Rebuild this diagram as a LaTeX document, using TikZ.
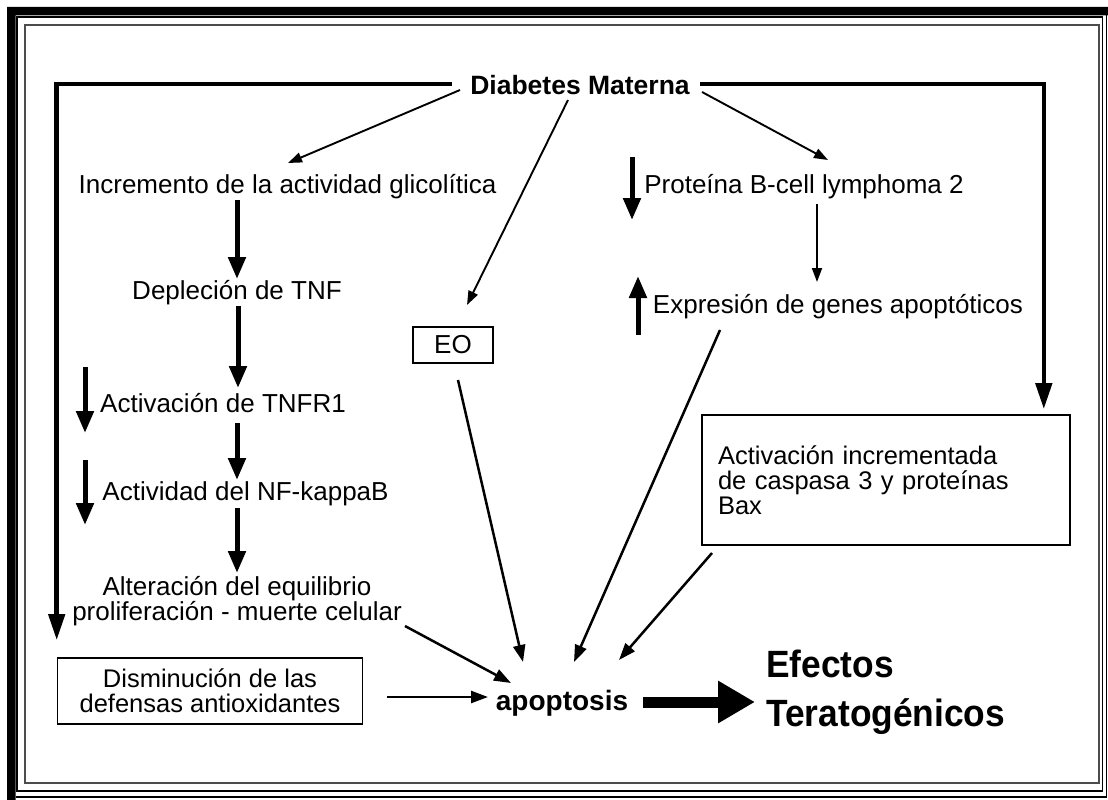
\documentclass[tikz,border=0pt]{standalone}
\usepackage{fontspec}
\usepackage{graphicx}
\setmainfont{Liberation Sans}
\usetikzlibrary{arrows.meta}
\begin{document}
\begin{tikzpicture}[x=1pt,y=-1pt,
  txt/.style={inner sep=0pt, font=\fontsize{26}{23}\selectfont},
  boxtxt/.style={inner sep=0pt, font=\fontsize{25.5}{25}\selectfont},
  boxed/.style={draw, line width=1.6pt},
  chainarr/.style={line width=5pt, -{Triangle[width=17pt,length=22pt]}},
  longarr/.style={line width=4.5pt, -{Triangle[width=16pt,length=26pt]}},
  thinarr/.style={line width=1.9pt, -{Triangle[width=10pt,length=14pt]}},
  midarr/.style={line width=2.5pt, -{Triangle[width=12pt,length=17pt]}},
  bigarr/.style={line width=11pt, -{Triangle[width=40pt,length=37pt]}}]
\useasboundingbox (0,0) rectangle (1108,800);
% frame
\fill (7,7) -- (1108,7) -- (1108,15.5) -- (15.5,15.5) -- (15.5,800) -- (7,800) -- cycle;
\draw[line width=1.1pt] (17,17) rectangle (1102.7,791);
\draw[line width=1.1pt] (1106.7,15.5) -- (1106.7,797) -- (15.5,797);
\draw[line width=2.2pt, black!70] (25,25) rectangle (1099,783);
% nodes
\node[txt, anchor=base, font=\fontsize{26.5}{26}\selectfont\bfseries] (dm) at (580,95) {Diabetes Materna};
\node[txt, anchor=base] (inc) at (287.5,193.5) {Incremento de la actividad glicolítica};
\node[txt, anchor=base] (dep) at (237,299) {Depleción de TNF};
\node[txt, anchor=base] (tnfr) at (223,412) {Activación de TNFR1};
\node[txt, anchor=base] (nfk) at (245.5,500) {Actividad del NF-kappaB};
\node[txt, align=center] (alt) at (237,601) {Alteración del equilibrio\\proliferación - muerte celular};
\node[boxtxt, boxed, align=center, minimum width=305pt, minimum height=66pt] (dis) at (210,691) {Disminución de las\\defensas antioxidantes};
\node[txt, boxed, minimum width=80pt, minimum height=36pt] (eo) at (453,345) {EO};
\node[txt, anchor=base] (prot) at (804,193) {Proteína B-cell lymphoma 2};
\node[txt, anchor=base] (expr) at (838,313) {Expresión de genes apoptóticos};
\node[boxtxt, boxed, minimum width=368pt, minimum height=130pt, text width=336pt, inner xsep=16pt, align=left] (act) at (886,480) {Activación incrementada\\de caspasa 3 y proteínas\\Bax};
\node[txt, anchor=base, font=\fontsize{28}{28}\selectfont\bfseries] (apo) at (562,710) {apoptosis};
\node[txt, anchor=north west, align=left, font=\fontsize{38}{49}\selectfont\bfseries] (eff) at (766,650) {\scalebox{0.93}[1]{Efectos}\\\scalebox{0.93}[1]{Teratogénicos}};
\coordinate (effin) at ([xshift=-11pt]eff.west);
% long connectors from Diabetes Materna
\draw[longarr] ([shift={(-128,-11)}]dm.base) -| ([shift={(0,-17)}]dis.north west);
\draw[longarr] ([shift={(120,-11)}]dm.base) -| ([shift={(-27,-5)}]act.north east);
\draw[thinarr] ([shift={(-120,-5)}]dm.base) -- ([shift={(0.5,-30.5)}]inc.base);
\draw[thinarr] ([shift={(-12,5)}]dm.base) -- ([shift={(14,-40)}]eo.center);
\draw[thinarr] ([shift={(122,-3)}]dm.base) -- ([shift={(24,-33)}]prot.base);
% left chain
\draw[chainarr] ([shift={(-50.5,6.5)}]inc.base) -- ([shift={(0,-20)}]dep.base);
\draw[chainarr] ([shift={(1,7)}]dep.base) -- ([shift={(15,-24)}]tnfr.base);
\draw[chainarr] ([shift={(14,11)}]tnfr.base) -- ([shift={(-8.5,-20)}]nfk.base);
\draw[chainarr] ([shift={(-8.5,8)}]nfk.base) -- ([shift={(0,-28)}]alt.center);
% up/down indicators
\draw[chainarr] ([shift={(-138,-45)}]tnfr.base) -- ([shift={(-138,21)}]tnfr.base);
\draw[chainarr] ([shift={(-160.5,-40)}]nfk.base) -- ([shift={(-160.5,25)}]nfk.base);
\draw[chainarr] ([shift={(-172,-36)}]prot.base) -- ([shift={(-172,27)}]prot.base);
\draw[chainarr] ([shift={(-200,22)}]expr.base) -- ([shift={(-200,-37)}]expr.base);
% right chain
\draw[thinarr] ([shift={(13,11)}]prot.base) -- ([shift={(-21,-31)}]expr.base);
% into apoptosis
\draw[midarr] ([shift={(5,35)}]eo.center) -- ([shift={(-39,-48)}]apo.base);
\draw[midarr] ([shift={(-118,17)}]expr.base) -- ([shift={(12,-48)}]apo.base);
\draw[midarr] ([shift={(-174,73)}]act.center) -- ([shift={(57,-50)}]apo.base);
\draw[midarr] ([shift={(168,25)}]alt.center) -- ([shift={(-51,-27)}]apo.base);
\draw[midarr] ([shift={(177,6)}]dis.center) -- ([shift={(-74,-13)}]apo.base);
\draw[bigarr] ([shift={(81,-8)}]apo.base) coordinate (bigs) -- (bigs -| effin);
\end{tikzpicture}
\end{document}
